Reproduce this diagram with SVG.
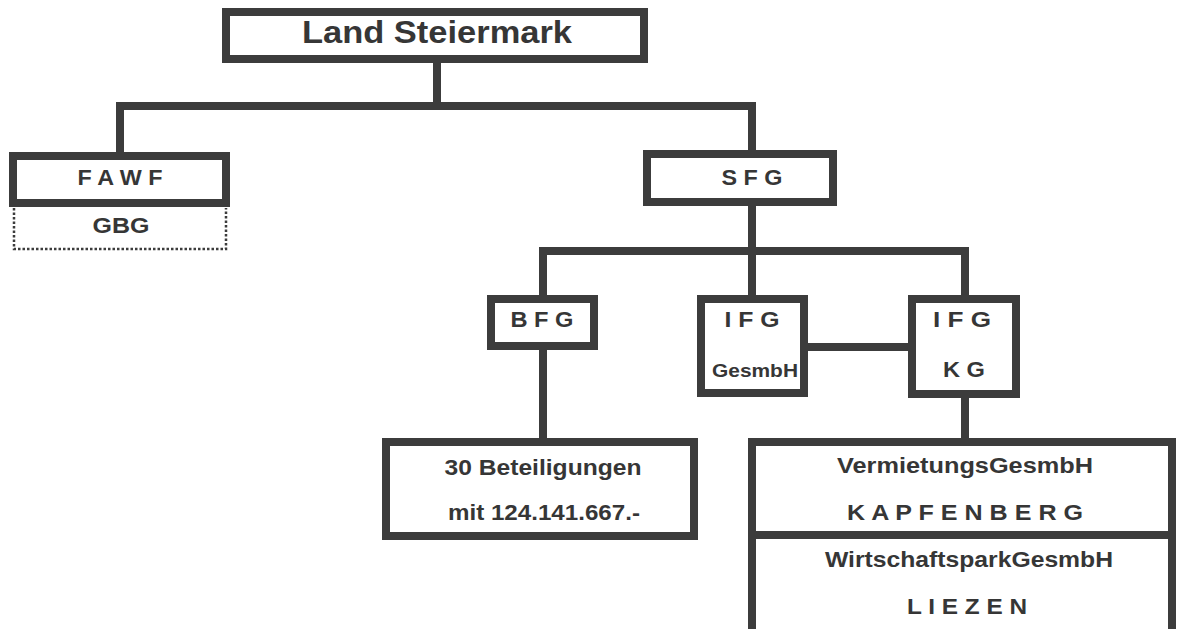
<svg xmlns="http://www.w3.org/2000/svg" width="1177" height="629" viewBox="0 0 1177 629">
<style>
.box{fill:#fff;stroke:#3c3c3c;stroke-width:8}
.ln{fill:none;stroke:#3c3c3c;stroke-width:8;stroke-linecap:square;stroke-linejoin:miter}
.dot{fill:none;stroke:#3c3c3c;stroke-width:2.5;stroke-dasharray:2.5 2}
text{font-family:"Liberation Sans",Arial,Helvetica,sans-serif;font-weight:bold;fill:#363636;text-anchor:middle}
.t20{font-size:22px}
.t17{font-size:18px}
</style>
<rect width="1177" height="629" fill="#fff"/>
<g id="connectors">
<path class="ln" d="M437,63 V106"/>
<path class="ln" d="M120,152 V106 H752 V150"/>
<path class="ln" d="M752,206 V295"/>
<path class="ln" d="M543,295 V251 H965 V295"/>
<path class="ln" d="M543,350 V438"/>
<path class="ln" d="M808,347 H908"/>
<path class="ln" d="M965,398 V438"/>
</g>
<g id="land">
<rect class="box" x="226" y="12" width="418" height="47"/>
<text x="437" y="43" font-size="32" textLength="270" lengthAdjust="spacingAndGlyphs">Land Steiermark</text>
</g>
<g id="fawf">
<rect class="box" x="13" y="156" width="213" height="47"/>
<text class="t20" x="120" y="185" textLength="85" lengthAdjust="spacingAndGlyphs">F A W F</text>
</g>
<g id="gbg">
<path class="dot" d="M14,208 V249 H226 V208"/>
<text class="t20" x="121" y="233" textLength="57" lengthAdjust="spacingAndGlyphs">GBG</text>
</g>
<g id="sfg">
<rect class="box" x="647" y="154" width="186" height="48"/>
<text class="t20" x="752" y="185" textLength="61" lengthAdjust="spacingAndGlyphs">S F G</text>
</g>
<g id="bfg">
<rect class="box" x="491" y="299" width="103" height="47"/>
<text class="t20" x="542" y="327" textLength="63" lengthAdjust="spacingAndGlyphs">B F G</text>
</g>
<g id="ifg-gesmbh">
<rect class="box" x="701" y="299" width="103" height="94"/>
<text class="t20" x="752" y="327" textLength="55" lengthAdjust="spacingAndGlyphs">I F G</text>
<text class="t17" x="755" y="377" textLength="86" lengthAdjust="spacingAndGlyphs">GesmbH</text>
</g>
<g id="ifg-kg">
<rect class="box" x="912" y="299" width="104" height="95"/>
<text class="t20" x="962" y="327" textLength="58" lengthAdjust="spacingAndGlyphs">I F G</text>
<text class="t20" x="964" y="377" textLength="42" lengthAdjust="spacingAndGlyphs">K G</text>
</g>
<g id="beteiligungen">
<rect class="box" x="386" y="442" width="308" height="94"/>
<text class="t20" x="543" y="475" textLength="197" lengthAdjust="spacingAndGlyphs">30 Beteiligungen</text>
<text class="t20" x="544" y="520" textLength="192" lengthAdjust="spacingAndGlyphs">mit 124.141.667.-</text>
</g>
<g id="kapfenberg-liezen">
<rect class="box" x="752" y="442" width="420" height="200"/>
<path class="ln" d="M752,535 H1172"/>
<text class="t20" x="965" y="473" textLength="256" lengthAdjust="spacingAndGlyphs">VermietungsGesmbH</text>
<text class="t20" x="965" y="520" textLength="236" lengthAdjust="spacingAndGlyphs">K A P F E N B E R G</text>
<text class="t20" x="969" y="567" textLength="288" lengthAdjust="spacingAndGlyphs">WirtschaftsparkGesmbH</text>
<text class="t20" x="967" y="614" textLength="120" lengthAdjust="spacingAndGlyphs">L I E Z E N</text>
</g>
</svg>
